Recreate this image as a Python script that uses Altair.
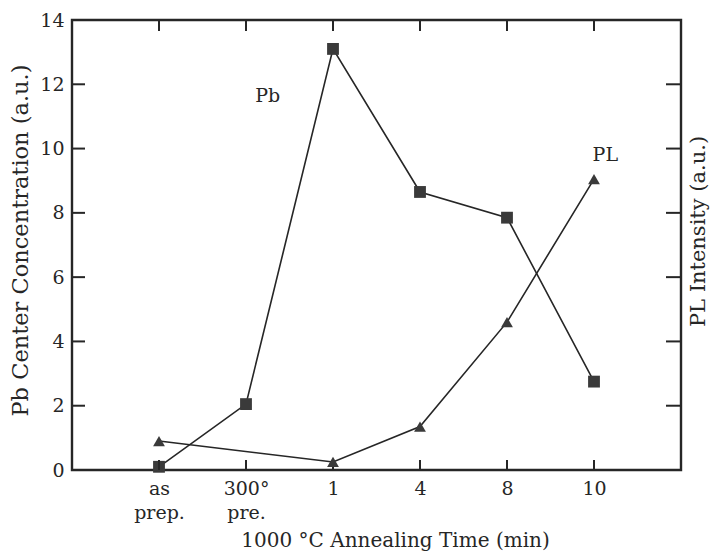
import altair as alt
import pandas as pd
import json

# ---- data ----
categories = ["as prep.", "300° pre.", "1", "4", "8", "10"]
x_index = [0, 1, 2, 3, 4, 5]
pb_values = [0.1, 2.05, 13.1, 8.65, 7.85, 2.75]
pl_index = [0, 2, 3, 4, 5]
pl_values = [0.9, 0.25, 1.35, 4.6, 9.05]
y_ticks = [2, 4, 6, 8, 10, 12]
y_labels = [0, 2, 4, 6, 8, 10, 12, 14]
ann_text = ["Pb", "PL"]
ann_x = [1.25, 5.13]
ann_y = [11.65, 9.8]

FONT = "DejaVu Serif"
INK = "#262626"

pb_df = pd.DataFrame({"x": x_index, "v": pb_values})
pl_df = pd.DataFrame({"x": pl_index, "v": pl_values})
yt_df = pd.DataFrame({"v": y_ticks})
xt_df = pd.DataFrame({"x": x_index})
ann_df = pd.DataFrame({"x": ann_x, "v": ann_y, "t": ann_text})

label_arr = "[" + ",".join(json.dumps(c.split(" ")) if " " in c else json.dumps(c) for c in categories) + "]"

W, H = 609, 450
x_scale = alt.Scale(domain=[-1, 6], nice=False, zero=False)
y_scale = alt.Scale(domain=[0, 14], nice=False)

common = dict(labelFont=FONT, titleFont=FONT, labelFontSize=19,
              labelColor=INK, titleColor=INK, titleFontWeight="normal", grid=False, domain=False,
              titleLimit=1000)

x_axis = alt.Axis(
    values=x_index,
    labelExpr=label_arr + "[datum.value]",
    ticks=False,
    labelPadding=9, labelLineHeight=24, labelBaseline="top",
    title="1000 °C Annealing Time (min)", titleFontSize=20,
    titleX=323, titleY=76, titleAlign="center", titleBaseline="alphabetic", **common,
)
left_axis = alt.Axis(
    values=y_labels, ticks=False, labelPadding=8,
    title="Pb Center Concentration (a.u.)", titleFontSize=22.5,
    titleX=-52, titleY=220, titleAngle=270, titleAlign="center", titleBaseline="middle", **common,
)
right_axis = alt.Axis(
    orient="right", labels=False, ticks=False,
    title="PL Intensity (a.u.)", titleFontSize=21,
    titleX=17, titleY=211, titleAngle=270, titleAlign="center", titleBaseline="middle", **common,
)

X = lambda: alt.X("x:Q", scale=x_scale, axis=x_axis)
YL = lambda: alt.Y("v:Q", scale=y_scale, axis=left_axis)
YR = lambda: alt.Y("v:Q", scale=y_scale, axis=right_axis)

pb_line = alt.Chart(pb_df).mark_line(color=INK, strokeWidth=1.6).encode(x=X(), y=YL())
pb_pts = alt.Chart(pb_df).mark_point(shape="square", filled=True, size=140, color="#3a3a3a", opacity=1).encode(x=X(), y=YL())
lt = alt.Chart(yt_df).mark_rule(color=INK, strokeWidth=2).encode(x=alt.value(0), x2=alt.value(13), y=YL())
bt = alt.Chart(xt_df).mark_rule(color=INK, strokeWidth=2).encode(x=X(), y=alt.value(H), y2=alt.value(H - 10))
tt = alt.Chart(xt_df).mark_rule(color=INK, strokeWidth=2).encode(x=X(), y=alt.value(0), y2=alt.value(11))
ann = alt.Chart(ann_df).mark_text(font=FONT, fontSize=19, color=INK).encode(x=X(), y=YL(), text="t:N")

left = alt.layer(pb_line, pb_pts, lt, bt, tt, ann)

pl_line = alt.Chart(pl_df).mark_line(color=INK, strokeWidth=1.6).encode(x=X(), y=YR())
pl_pts = alt.Chart(pl_df).mark_point(shape="triangle-up", filled=True, size=140, color="#3a3a3a", opacity=1).encode(x=X(), y=YR())
rt = alt.Chart(yt_df).mark_rule(color=INK, strokeWidth=2).encode(x=alt.value(W - 15), x2=alt.value(W), y=YR())

right = alt.layer(pl_line, pl_pts, rt)

chart = (
    alt.layer(left, right)
    .resolve_scale(y="independent")
    .properties(
        width=W, height=H,
        autosize=alt.AutoSizeParams(type="none"),
        padding={"left": 64, "top": 12, "right": 29, "bottom": 82},
        background="white",
    )
    .configure_view(stroke=INK, strokeWidth=2.4)
)

chart.save("out.html", embed_options={"renderer": "svg", "actions": False})
